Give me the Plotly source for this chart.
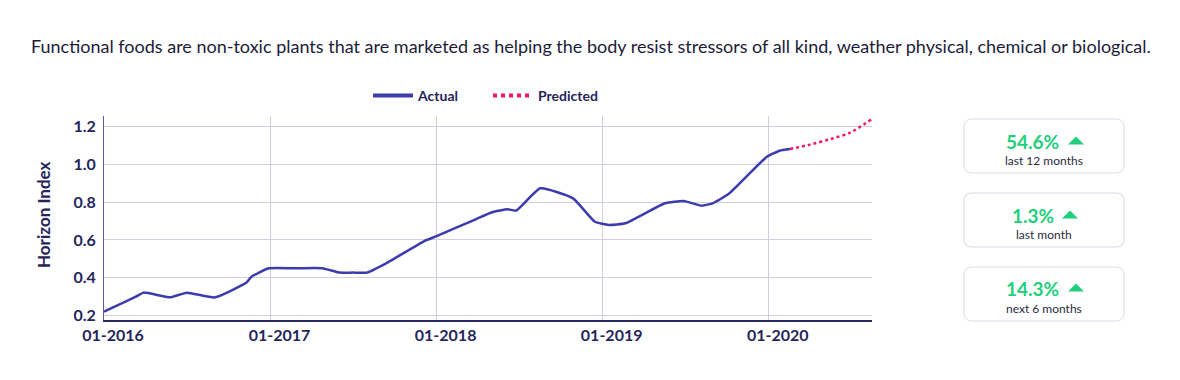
import plotly.graph_objects as go

# ---- data ----
actual_dates = ["2016-01-01", "2016-03-10", "2016-03-28", "2016-05-25", "2016-07-01",
                "2016-09-01", "2016-11-10", "2016-11-20", "2016-12-28", "2017-03-01",
                "2017-04-25", "2017-06-01", "2017-07-01", "2017-08-01", "2017-09-12",
                "2017-12-05", "2018-01-01", "2018-03-28", "2018-05-03", "2018-06-06",
                "2018-06-25", "2018-08-17", "2018-10-28", "2018-12-15", "2019-01-15",
                "2019-02-20", "2019-05-18", "2019-06-28", "2019-08-07", "2019-09-01",
                "2019-10-06", "2019-12-28", "2020-01-25", "2020-02-17"]
actual_values = [0.22, 0.298, 0.321, 0.296, 0.321,
                 0.296, 0.376, 0.405, 0.45, 0.45,
                 0.45, 0.427, 0.427, 0.427, 0.476,
                 0.594, 0.62, 0.709, 0.746, 0.762,
                 0.755, 0.873, 0.82, 0.696, 0.679,
                 0.688, 0.794, 0.806, 0.781, 0.795,
                 0.845, 1.04, 1.072, 1.081]
pred_dates = ["2020-02-17", "2020-04-01", "2020-05-22", "2020-06-28", "2020-08-14"]
pred_values = [1.081, 1.104, 1.138, 1.167, 1.238]

title_text = ("Functional foods are non-toxic plants that are marketed as helping the body "
              "resist stressors of all kind, weather physical, chemical or biological.")
kpi_values = ["54.6%", "1.3%", "14.3%"]
kpi_labels = ["last 12 months", "last month", "next 6 months"]

# ---- layout geometry (page pixels; figure is drawn 8px in from page corner) ----
W, H = 1180, 380
OFF = 8
PL, PR, PT, PB = 104, 872, 116, 320

def xp(p):
    return (p - PL) / (PR - PL)

def yp(p):
    return (PB - p) / (PB - PT)

FONT = "Lato, 'Noto Sans', sans-serif"
NAVY = "#25255a"
LINE = "#3c3cae"
PRED = "#f5195f"
GREEN = "#1fcf7c"

fig = go.Figure()
fig.add_trace(go.Scatter(x=actual_dates, y=actual_values, mode="lines", name="Actual",
                         showlegend=False,
                         line=dict(color=LINE, width=2.5, shape="spline", smoothing=0.45)))
fig.add_trace(go.Scatter(x=pred_dates, y=pred_values, mode="lines", name="Predicted",
                         showlegend=False,
                         line=dict(color=PRED, width=2.5, dash="dot", shape="spline", smoothing=0.6)))
# legend entries (thicker sample strokes, as in the reference legend)
fig.add_trace(go.Scatter(x=[None], y=[None], mode="lines", name="Actual",
                         line=dict(color=LINE, width=4)))
fig.add_trace(go.Scatter(x=[None], y=[None], mode="lines", name="Predicted",
                         line=dict(color=PRED, width=4, dash="dot")))

shapes = []
annotations = []

# title
annotations.append(dict(text=title_text, x=xp(591), y=yp(46), xref="paper", yref="paper",
                        showarrow=False, xanchor="center", yanchor="middle",
                        font=dict(family=FONT, size=18, color="#1c1c3a")))
# y axis title
annotations.append(dict(text="Horizon Index", x=xp(43), y=yp(215), xref="paper", yref="paper",
                        showarrow=False, textangle=-90, xanchor="center", yanchor="middle",
                        font=dict(family=FONT, size=17, color=NAVY, weight="bold")))

# KPI boxes
boxes = [(119, 173), (193, 247), (267, 321)]
val_y = [141, 215, 288]
lab_y = [160, 234, 308]
val_x = [1032, 1033, 1032]
tri_x = [(1068, 1084), (1062, 1078), (1068, 1084)]
bx0, bx1 = 964, 1124
r = 8
for i, (t, b) in enumerate(boxes):
    rx = r / (PR - PL)
    ry = r / (PB - PT)
    x0, x1, y0, y1 = xp(bx0), xp(bx1), yp(b), yp(t)
    path = (f"M {x0+rx} {y0} L {x1-rx} {y0} Q {x1} {y0} {x1} {y0+ry} "
            f"L {x1} {y1-ry} Q {x1} {y1} {x1-rx} {y1} "
            f"L {x0+rx} {y1} Q {x0} {y1} {x0} {y1-ry} "
            f"L {x0} {y0+ry} Q {x0} {y0} {x0+rx} {y0} Z")
    shapes.append(dict(type="path", path=path, xref="paper", yref="paper",
                       line=dict(color="#d9d9e6", width=1), fillcolor="white", layer="below"))
    annotations.append(dict(text=kpi_values[i], x=xp(val_x[i]), y=yp(val_y[i]), xref="paper",
                            yref="paper", showarrow=False, xanchor="center", yanchor="middle",
                            font=dict(family=FONT, size=19, color=GREEN, weight="bold")))
    annotations.append(dict(text=kpi_labels[i], x=xp(1044), y=yp(lab_y[i]), xref="paper",
                            yref="paper", showarrow=False, xanchor="center", yanchor="middle",
                            font=dict(family=FONT, size=12, color="#2a2a40")))
    ta, tb = tri_x[i]
    ty = val_y[i]
    tpath = (f"M {xp(ta)} {yp(ty+3.5)} L {xp(tb)} {yp(ty+3.5)} "
             f"L {xp((ta+tb)/2)} {yp(ty-4.5)} Z")
    shapes.append(dict(type="path", path=tpath, xref="paper", yref="paper",
                       line=dict(width=0), fillcolor=GREEN))

fig.update_layout(
    width=W, height=H,
    margin=dict(l=PL - OFF, r=W - PR + OFF, t=PT - OFF, b=H - PB + OFF, pad=0),
    paper_bgcolor="white", plot_bgcolor="white",
    font=dict(family=FONT, color=NAVY),
    showlegend=True,
    legend=dict(orientation="h", x=0.5, xanchor="center", y=yp(96), yanchor="middle",
                font=dict(family=FONT, size=14, color=NAVY, weight="bold"),
                itemwidth=40, entrywidth=65, entrywidthmode="pixels",
                tracegroupgap=0, bgcolor="rgba(0,0,0,0)"),
    shapes=shapes,
    annotations=annotations,
    xaxis=dict(type="date", range=["2016-01-01", "2020-08-15"], tick0="2016-01-01", dtick="M12",
               tickformat="%m-%Y", showgrid=True, gridcolor="#cfcfe0", gridwidth=1,
               showline=True, linecolor="#2b2b5e", linewidth=2, ticks="", zeroline=False,
               ticklabelshift=9, ticklabelstandoff=0,
               tickfont=dict(family=FONT, size=16, color=NAVY, weight="bold")),
    yaxis=dict(range=[0.1762, 1.2556], tickvals=[0.2, 0.4, 0.6, 0.8, 1.0, 1.2],
               ticktext=["0.2", "0.4", "0.6", "0.8", "1.0", "1.2"],
               showgrid=True, gridcolor="#cfcfe0", gridwidth=1,
               showline=True, linecolor="#5a5aa0", linewidth=1, ticks="", zeroline=False,
               ticklabelstandoff=4,
               tickfont=dict(family=FONT, size=16, color=NAVY, weight="bold")),
)

fig.write_html("out.html")
